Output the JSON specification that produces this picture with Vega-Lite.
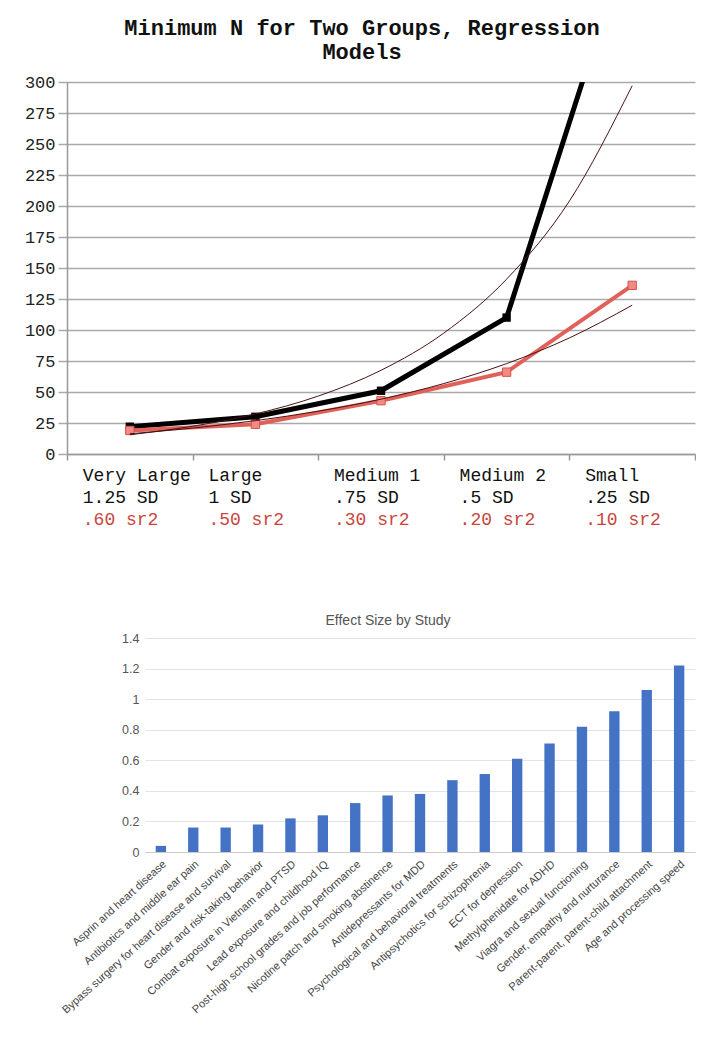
{
  "$schema": "https://vega.github.io/schema/vega-lite/v6.json",
  "background": "white",
  "padding": {"left": 22, "top": 17, "right": 0, "bottom": 0},
  "config": {"view": {"stroke": null}},
  "datasets": {
    "minN": [
      {"idx": 1, "category": "Very Large", "model": "Two Groups", "N": 22},
      {"idx": 2, "category": "Large", "model": "Two Groups", "N": 30},
      {"idx": 3, "category": "Medium 1", "model": "Two Groups", "N": 51},
      {"idx": 4, "category": "Medium 2", "model": "Two Groups", "N": 110},
      {"idx": 5, "category": "Small", "model": "Two Groups", "N": 425},
      {"idx": 1, "category": "Very Large", "model": "Regression", "N": 19},
      {"idx": 2, "category": "Large", "model": "Regression", "N": 24},
      {"idx": 3, "category": "Medium 1", "model": "Regression", "N": 43},
      {"idx": 4, "category": "Medium 2", "model": "Regression", "N": 66},
      {"idx": 5, "category": "Small", "model": "Regression", "N": 136}
    ],
    "trend": [
      {"idx": 1, "model": "Two Groups", "N": 15.5},
      {"idx": 1.5, "model": "Two Groups", "N": 22.4},
      {"idx": 2, "model": "Two Groups", "N": 32.3},
      {"idx": 2.5, "model": "Two Groups", "N": 46.7},
      {"idx": 3, "model": "Two Groups", "N": 67.5},
      {"idx": 3.5, "model": "Two Groups", "N": 97.5},
      {"idx": 4, "model": "Two Groups", "N": 141},
      {"idx": 4.5, "model": "Two Groups", "N": 204},
      {"idx": 5, "model": "Two Groups", "N": 297},
      {"idx": 1, "model": "Regression", "N": 16.3},
      {"idx": 1.5, "model": "Regression", "N": 20.9},
      {"idx": 2, "model": "Regression", "N": 26.9},
      {"idx": 2.5, "model": "Regression", "N": 34.5},
      {"idx": 3, "model": "Regression", "N": 44.2},
      {"idx": 3.5, "model": "Regression", "N": 56.8},
      {"idx": 4, "model": "Regression", "N": 72.9},
      {"idx": 4.5, "model": "Regression", "N": 93.6},
      {"idx": 5, "model": "Regression", "N": 120}
    ],
    "labels": [
      {"idx": 1, "category": "Very Large", "sd": "1.25 SD", "sr2": ".60 sr2"},
      {"idx": 2, "category": "Large", "sd": "1 SD", "sr2": ".50 sr2"},
      {"idx": 3, "category": "Medium 1", "sd": ".75 SD", "sr2": ".30 sr2"},
      {"idx": 4, "category": "Medium 2", "sd": ".5 SD", "sr2": ".20 sr2"},
      {"idx": 5, "category": "Small", "sd": ".25 SD", "sr2": ".10 sr2"}
    ],
    "effects": [
      {"study": "Asprin and  heart disease", "d": 0.04},
      {"study": "Antibiotics and middle ear pain", "d": 0.16},
      {"study": "Bypass surgery for heart disease and survival", "d": 0.16},
      {"study": "Gender and risk-taking behavior", "d": 0.18},
      {"study": "Combat exposure in Vietnam and PTSD", "d": 0.22},
      {"study": "Lead exposure and  childhood IQ", "d": 0.24},
      {"study": "Post-high school grades and job performance", "d": 0.32},
      {"study": "Nicotine patch and smoking abstinence", "d": 0.37},
      {"study": "Antidepressants for MDD", "d": 0.38},
      {"study": "Psychological and behavioral treatments", "d": 0.47},
      {"study": "Antipsychotics for schizophrenia", "d": 0.51},
      {"study": "ECT for depression", "d": 0.61},
      {"study": "Methylphenidate for ADHD", "d": 0.71},
      {"study": "Viagra and sexual functioning", "d": 0.82},
      {"study": "Gender, empathy and nurturance", "d": 0.92},
      {"study": "Parent-parent, parent-child attachment", "d": 1.06},
      {"study": "Age and processing speed", "d": 1.22}
    ]
  },
  "spacing": 85,
  "vconcat": [
    {
      "width": 628,
      "height": 372,
      "title": {
        "text": ["Minimum N for Two Groups, Regression", "Models"],
        "font": "Liberation Mono",
        "fontSize": 22,
        "fontWeight": "bold",
        "lineHeight": 24,
        "color": "#111111",
        "offset": 9,
        "dx": -19
      },
      "layer": [
        {
          "encoding": {
            "x": {
              "field": "idx",
              "type": "quantitative",
              "scale": {"domain": [0.5, 5.5], "nice": false, "zero": false},
              "axis": {
                "title": null,
                "values": [0.5, 1.5, 2.5, 3.5, 4.5, 5.5],
                "labels": false,
                "grid": false,
                "tickSize": 6,
                "tickColor": "#999999",
                "tickWidth": 1.5,
                "domainColor": "#999999",
                "domainWidth": 1.5
              }
            },
            "y": {
              "field": "N",
              "type": "quantitative",
              "scale": {"domain": [0, 300], "nice": false},
              "axis": {
                "title": null,
                "values": [0, 25, 50, 75, 100, 125, 150, 175, 200, 225, 250, 275, 300],
                "labelOverlap": false,
                "labelFont": "Liberation Mono",
                "labelFontSize": 17,
                "labelColor": "#222222",
                "labelPadding": 3,
                "tickSize": 9,
                "tickColor": "#aaaaaa",
                "tickWidth": 1.5,
                "gridColor": "#aaaaaa",
                "gridWidth": 1.5,
                "domainColor": "#999999",
                "domainWidth": 1.5,
                "minExtent": 45
              }
            }
          },
          "layer": [
            {
              "data": {"name": "minN"},
              "transform": [{"filter": "datum.model === 'Two Groups'"}],
              "mark": {"type": "line", "color": "#000000", "strokeWidth": 5, "clip": true}
            },
            {
              "data": {"name": "minN"},
              "transform": [{"filter": "datum.model === 'Two Groups'"}],
              "mark": {"type": "point", "shape": "square", "filled": true, "color": "#000000", "size": 70, "opacity": 1, "clip": true}
            },
            {
              "data": {"name": "minN"},
              "transform": [{"filter": "datum.model === 'Regression'"}],
              "mark": {"type": "line", "color": "#e0605a", "strokeWidth": 4, "clip": true}
            },
            {
              "data": {"name": "minN"},
              "transform": [{"filter": "datum.model === 'Regression'"}],
              "mark": {"type": "point", "shape": "square", "filled": true, "color": "#f08a85", "stroke": "#d8524c", "strokeWidth": 1, "size": 70, "opacity": 1, "clip": true}
            },
            {
              "data": {"name": "trend"},
              "mark": {"type": "line", "color": "#4a1212", "strokeWidth": 1, "interpolate": "monotone", "clip": true},
              "encoding": {"detail": {"field": "model"}}
            }
          ]
        },
        {
          "data": {"name": "labels"},
          "encoding": {
            "x": {
              "field": "idx",
              "type": "quantitative",
              "axis": {
                "title": null,
                "values": [0.5, 1.5, 2.5, 3.5, 4.5, 5.5],
                "labels": false,
                "grid": false,
                "tickSize": 6,
                "tickColor": "#999999",
                "tickWidth": 1.5,
                "domainColor": "#999999",
                "domainWidth": 1.5
              }
            },
            "y": {
              "datum": 0,
              "type": "quantitative",
              "axis": {
                "title": null,
                "values": [0, 25, 50, 75, 100, 125, 150, 175, 200, 225, 250, 275, 300],
                "labelOverlap": false,
                "labelFont": "Liberation Mono",
                "labelFontSize": 17,
                "labelColor": "#222222",
                "labelPadding": 3,
                "tickSize": 9,
                "tickColor": "#aaaaaa",
                "tickWidth": 1.5,
                "gridColor": "#aaaaaa",
                "gridWidth": 1.5,
                "domainColor": "#999999",
                "domainWidth": 1.5,
                "minExtent": 45
              }
            }
          },
          "layer": [
            {
              "mark": {"type": "text", "align": "left", "baseline": "middle", "dx": -47, "dy": 22, "font": "Liberation Mono", "fontSize": 18, "color": "#111111"},
              "encoding": {"text": {"field": "category"}}
            },
            {
              "mark": {"type": "text", "align": "left", "baseline": "middle", "dx": -47, "dy": 44, "font": "Liberation Mono", "fontSize": 18, "color": "#111111"},
              "encoding": {"text": {"field": "sd"}}
            },
            {
              "mark": {"type": "text", "align": "left", "baseline": "middle", "dx": -47, "dy": 66, "font": "Liberation Mono", "fontSize": 18, "color": "#c8463e"},
              "encoding": {"text": {"field": "sr2"}}
            }
          ]
        }
      ]
    },
    {
      "spacing": 0,
      "bounds": "flush",
      "hconcat": [
        {
          "width": 78,
          "height": 214,
          "data": {"values": []},
          "mark": "point"
        },
        {
          "width": 550,
          "height": 214,
          "data": {"name": "effects"},
          "title": {
            "text": "Effect Size by Study",
            "font": "Liberation Sans",
            "fontSize": 14,
            "fontWeight": "normal",
            "color": "#555555",
            "offset": 4,
            "dx": -32
          },
          "mark": {"type": "bar", "color": "#4472c4"},
          "encoding": {
            "x": {
              "field": "study",
              "type": "nominal",
              "sort": null,
              "scale": {"paddingInner": 0.68, "paddingOuter": 0.33},
              "axis": {
                "title": null,
                "labelAngle": -42,
                "labelFont": "Liberation Sans",
                "labelFontSize": 11,
                "labelColor": "#444444",
                "labelPadding": 6,
                "labelLimit": 400,
                "ticks": false,
                "domainColor": "#cccccc"
              }
            },
            "y": {
              "field": "d",
              "type": "quantitative",
              "scale": {"domain": [0, 1.4], "nice": false},
              "axis": {
                "title": null,
                "values": [0, 0.2, 0.4, 0.6, 0.8, 1, 1.2, 1.4],
                "format": "~g",
                "labelFont": "Liberation Sans",
                "labelFontSize": 12.5,
                "labelColor": "#555555",
                "labelPadding": 6,
                "ticks": false,
                "domain": false,
                "gridColor": "#e3e3e3"
              }
            }
          }
        }
      ]
    }
  ]
}
